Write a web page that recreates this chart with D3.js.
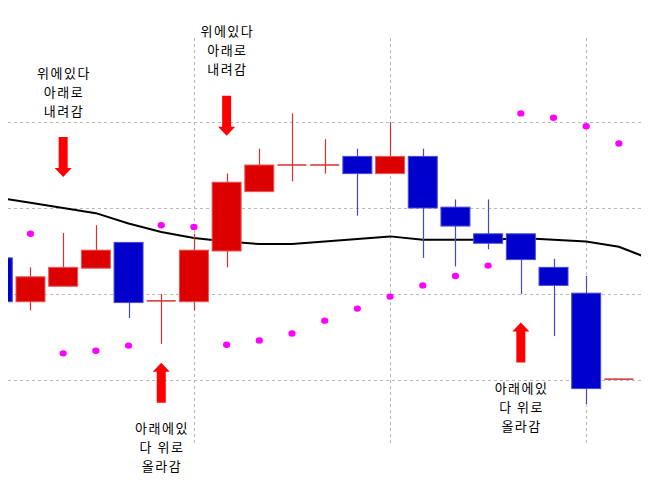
<!DOCTYPE html>
<html>
<head>
<meta charset="utf-8">
<script src="https://cdn.jsdelivr.net/npm/d3@7"></script>
<style>
  body { margin: 0; background: #fff; }
  svg { display: block; }
</style>
</head>
<body>
<div id="chart"></div>
<script>
var width = 648
var height = 480
var plot = { left: 8, right: 641, top: 38, bottom: 446 }

// candle data (index 0 is the partly hidden one at the left edge)
var opens  = [114.2, 109.1, 110.9, 113.0, 116.0, 109.2, 109.1, 115.0, 121.9, 125.0, 125.0, 126.0, 124.0, 126.0, 120.1, 117.0, 117.0, 113.1, 110.1, 100.1]
var highs  = [114.2, 113.1, 117.1, 118.0, 116.0, 110.0, 117.0, 124.0, 126.9, 131.0, 128.0, 126.9, 130.0, 126.9, 121.0, 121.0, 117.0, 114.1, 112.1, 100.1]
var lows   = [109.1, 108.1, 110.9, 113.0, 107.2, 104.2, 108.1, 113.1, 121.9, 123.1, 124.0, 119.1, 124.0, 114.2, 113.2, 115.2, 110.0, 105.1,  97.2, 100.1]
var closes = [109.1, 112.0, 113.1, 115.1, 109.0, 109.2, 115.1, 123.0, 125.0, 125.0, 125.0, 124.0, 126.0, 120.0, 117.9, 115.9, 114.0, 111.0,  99.0, 100.1]

// parabolic SAR dots (null = no dot)
var sar = [null, 117.0, 103.1, 103.4, 104.0, 118.0, 117.8, 104.1, 104.6, 105.4, 106.9, 108.3, 109.7, 111.0, 112.1, 113.3, 131.0, 130.5, 129.5, 127.5]

// moving average (one extra point past the right edge)
var ma = [121.2, 120.6, 120.0, 119.4, 118.2, 117.2, 116.5, 116.1, 115.8, 115.8, 116.1, 116.4, 116.7, 116.3, 116.3, 116.3, 116.5, 116.3, 116.1, 115.5, 114.0]

var gridTicks = [100, 110, 120, 130]
var gridIndex = [6, 12, 18]

// annotations: candle index, arrow direction, arrow tip price, text lines
var notes = [
  { i: 2,  dir: "down", tip: 123.6, lines: ["위에있다", "아래로", "내려감"] },
  { i: 7,  dir: "down", tip: 128.4, lines: ["위에있다", "아래로", "내려감"] },
  { i: 5,  dir: "up",   tip: 102.0, lines: ["아래에있", "다 위로", "올라감"] },
  { i: 16, dir: "up",   tip: 106.7, lines: ["아래에있", "다 위로", "올라감"] }
]

var x = d3.scaleLinear().domain([0, 19]).range([-2.2, 618.9])
var y = d3.scaleLinear().domain([100, 130]).range([380, 122])
var bodyW = 29

var svg = d3.select("#chart").append("svg")
    .attr("width", width)
    .attr("height", height)

svg.append("defs").append("clipPath")
    .attr("id", "clip")
    .append("rect")
    .attr("x", plot.left).attr("y", 0)
    .attr("width", plot.right - plot.left).attr("height", height)

// grid
svg.selectAll(".hgrid")
    .data(gridTicks)
    .enter().append("line")
    .attr("class", "hgrid")
    .attr("x1", plot.left).attr("x2", plot.right)
    .attr("y1", d => Math.round(y(d)) + 0.5).attr("y2", d => Math.round(y(d)) + 0.5)
    .attr("stroke", "#b8b8b8")
    .attr("stroke-dasharray", "3,3")

svg.selectAll(".vgrid")
    .data(gridIndex)
    .enter().append("line")
    .attr("class", "vgrid")
    .attr("x1", d => Math.round(x(d)) + 0.5).attr("x2", d => Math.round(x(d)) + 0.5)
    .attr("y1", plot.top).attr("y2", plot.bottom)
    .attr("stroke", "#b8b8b8")
    .attr("stroke-dasharray", "3,3")

var g = svg.append("g").attr("clip-path", "url(#clip)")

// moving average (behind the candles)
var line = d3.line()
    .x((d, i) => x(i))
    .y(d => y(d))
g.append("path")
    .datum(ma)
    .attr("d", line)
    .attr("fill", "none")
    .attr("stroke", "#000")
    .attr("stroke-width", 2)

var candles = opens.map((o, i) => ({ i: i, o: o, h: highs[i], l: lows[i], c: closes[i] }))
var isUp = d => d.c >= d.o

var candle = g.selectAll(".candle")
    .data(candles)
    .enter().append("g")
    .attr("class", "candle")

// wicks
candle.append("line")
    .attr("x1", d => Math.round(x(d.i)) + 0.5).attr("x2", d => Math.round(x(d.i)) + 0.5)
    .attr("y1", d => y(d.h)).attr("y2", d => y(d.l))
    .attr("stroke", d => isUp(d) ? "#d83030" : "#4848c4")
    .attr("stroke-width", 1.2)

// bodies (doji = flat line)
candle.filter(d => Math.abs(d.c - d.o) > 0.3)
    .append("rect")
    .attr("x", d => x(d.i) - bodyW / 2)
    .attr("width", bodyW)
    .attr("y", d => y(Math.max(d.o, d.c)))
    .attr("height", d => Math.abs(y(d.o) - y(d.c)))
    .attr("fill", d => isUp(d) ? "#dd0000" : "#0000cc")
    .attr("stroke", d => isUp(d) ? "#e85858" : "#4a4ad8")
    .attr("stroke-width", 1)

candle.filter(d => Math.abs(d.c - d.o) <= 0.3)
    .append("line")
    .attr("x1", d => x(d.i) - bodyW / 2).attr("x2", d => x(d.i) + bodyW / 2)
    .attr("y1", d => y(d.c)).attr("y2", d => y(d.c))
    .attr("stroke", "#d83030")
    .attr("stroke-width", 1.5)

// SAR dots
g.selectAll(".sar")
    .data(sar.map((v, i) => ({ i: i, v: v })).filter(d => d.v != null))
    .enter().append("ellipse")
    .attr("class", "sar")
    .attr("cx", d => x(d.i))
    .attr("cy", d => y(d.v))
    .attr("rx", 3.6).attr("ry", 3.2)
    .attr("fill", "#ff00ff")

// arrows + text
var arrowLen = 40, shaftW = 9, headW = 17, headH = 9, lineH = 19

notes.forEach(n => {
    var cx = x(n.i)
    var tip = y(n.tip)
    var s = n.dir == "down" ? -1 : 1
    var base = tip + s * arrowLen
    var neck = tip + s * headH
    var pts = [
        [cx, tip], [cx + headW / 2, neck], [cx + shaftW / 2, neck], [cx + shaftW / 2, base],
        [cx - shaftW / 2, base], [cx - shaftW / 2, neck], [cx - headW / 2, neck]
    ]
    svg.append("path")
        .attr("d", "M" + pts.join("L") + "Z")
        .attr("fill", "#ff0000")

    var firstY = n.dir == "down"
        ? base - 26 - (n.lines.length - 1) * lineH
        : base + 26
    // one text per line so the lines stay apart
    svg.selectAll(null)
        .data(n.lines)
        .enter().append("text")
        .attr("x", cx + 0.75)
        .attr("y", (d, i) => firstY + i * lineH)
        .attr("dy", "0.35em")
        .attr("text-anchor", "middle")
        .attr("font-family", "'Noto Sans CJK KR', sans-serif")
        .attr("font-size", "13px")
        .attr("letter-spacing", "1.5px")
        .attr("fill", "#000")
        .text(d => d)
})
</script>
</body>
</html>
